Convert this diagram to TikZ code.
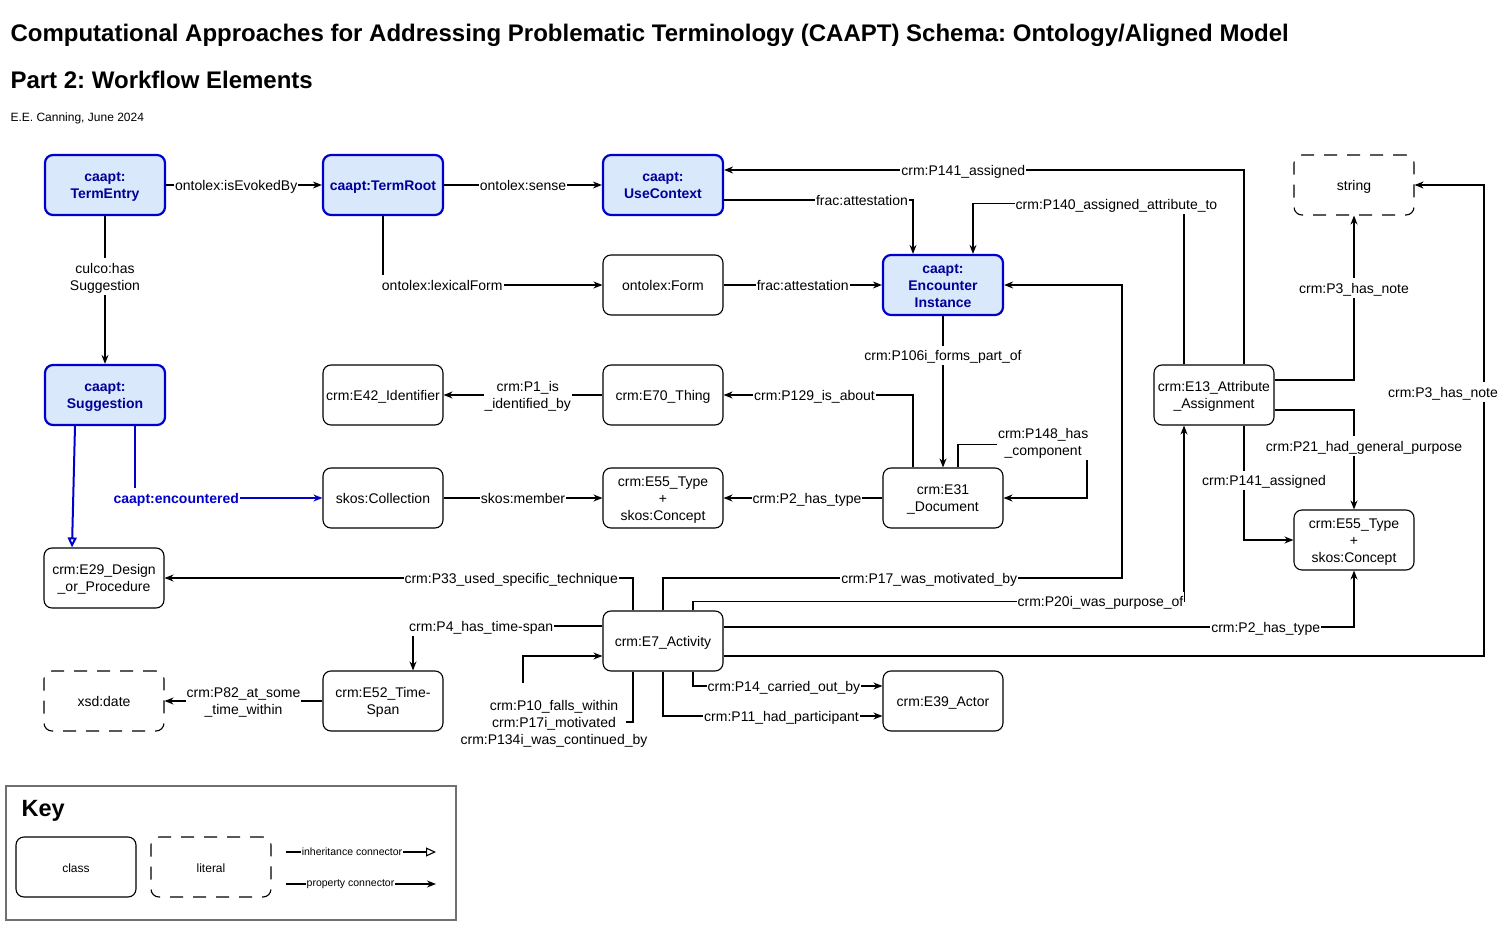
\documentclass[tikz,border=0pt]{standalone}
\usepackage{fontspec}
\setmainfont{Liberation Sans}
\usetikzlibrary{arrows.meta}
\frenchspacing

\definecolor{caaptfill}{HTML}{DAE8FC}
\definecolor{caaptblue}{HTML}{0000CC}
\definecolor{caapttext}{HTML}{000099}
\definecolor{keygrey}{HTML}{707070}

% line box of the diagram text (first and last line)
\newcommand{\topline}{\rule[-3.6pt]{0pt}{17.8pt}}
\newcommand{\bottomline}{\rule[-3.6pt]{0pt}{3.6pt}}

\begin{document}
\begin{tikzpicture}[x=1pt,y=-1pt,line width=1.1pt,>={Stealth[length=9pt,width=7pt]}]
    %
    % `classbox' is used for the plain classes.
    % `caapt' is used for the CAAPT classes (blue boxes).
    % `literal' is used for the dashed literal boxes.
    % `lbl' is used for the labels on the connectors.
    \tikzstyle{classbox} = [draw,fill=white,rounded corners=8pt,minimum width=120pt,minimum height=60pt,align=center,inner sep=2pt,font=\fontsize{14}{17}\selectfont,execute at begin node=\topline,execute at end node=\bottomline]
    \tikzstyle{caapt} = [classbox,draw=caaptblue,fill=caaptfill,line width=2.2pt,text=caapttext,font=\fontsize{14}{17}\selectfont\bfseries]
    \tikzstyle{literal} = [classbox,dash pattern=on 13pt off 10pt]
    \tikzstyle{lbl} = [fill=white,inner sep=1pt,align=center,font=\fontsize{14}{17}\selectfont,execute at begin node=\topline,execute at end node=\bottomline]
    \tikzstyle{bluelbl} = [lbl,text=caaptblue,font=\fontsize{14}{17}\selectfont\bfseries]
    \tikzstyle{keylbl} = [fill=white,inner sep=1pt,font=\fontsize{10.5}{12}\selectfont]
    \tikzstyle{prop} = [->]
    \tikzstyle{inherit} = [-{Triangle[open,length=10pt,width=9pt]}]
    \tikzstyle{blueline} = [draw=caaptblue,line width=2pt]
    %
    \useasboundingbox (0,0) rectangle (1505,925);
    %
    % Title
    \node[anchor=west,inner sep=0pt,font=\fontsize{24}{28}\selectfont\bfseries] (title) at (10,35) {Computational Approaches for Addressing Problematic Terminology (CAAPT) Schema: Ontology/Aligned Model};
    \node[anchor=west,inner sep=0pt,font=\fontsize{24}{28}\selectfont\bfseries] (subtitle) at (10,80) {Part 2: Workflow Elements};
    \node[anchor=west,inner sep=0pt,font=\fontsize{12}{14}\selectfont] (author) at (10,118) {E.E. Canning, June 2024};
    %
    % Classes
    \node[caapt] (termentry) at (105,185) {\topline caapt:\\TermEntry};
    \node[caapt] (termroot) at (383,185) {caapt:TermRoot};
    \node[caapt] (usecontext) at (663,185) {\topline caapt:\\UseContext};
    \node[literal] (string) at (1354,185) {string};
    \node[classbox] (form) at (663,285) {ontolex:Form};
    \node[caapt] (encounter) at (943,285) {\topline caapt:\\Encounter\\Instance};
    \node[caapt] (suggestion) at (105,395) {\topline caapt:\\Suggestion};
    \node[classbox] (identifier) at (383,395) {crm:E42\_Identifier};
    \node[classbox] (thing) at (663,395) {crm:E70\_Thing};
    \node[classbox] (attribute) at (1214,395) {\topline crm:E13\_Attribute\\\_Assignment};
    \node[classbox] (collection) at (383,498) {skos:Collection};
    \node[classbox] (typeA) at (663,498) {\topline crm:E55\_Type\\+\\skos:Concept};
    \node[classbox] (document) at (943,498) {\topline crm:E31\\\_Document};
    \node[classbox] (typeB) at (1354,540) {\topline crm:E55\_Type\\+\\skos:Concept};
    \node[classbox] (design) at (104,578) {\topline crm:E29\_Design\\\_or\_Procedure};
    \node[classbox] (activity) at (663,641) {crm:E7\_Activity};
    \node[literal] (date) at (104,701) {xsd:date};
    \node[classbox] (timespan) at (383,701) {\topline crm:E52\_Time-\\Span};
    \node[classbox] (actor) at (943,701) {crm:E39\_Actor};
    %
    % Lexical part
    \draw[prop] (termentry) -- node[lbl,pos=0.45] {ontolex:isEvokedBy} (termroot);
    \draw[prop] (termroot) -- node[lbl] {ontolex:sense} (usecontext);
    \draw[prop] (termentry) -- node[lbl,pos=0.41] {\topline culco:has\\Suggestion} (suggestion);
    \draw[prop] (termroot.south) |- node[lbl,pos=0.635] {ontolex:lexicalForm} (form.west);
    \draw[prop] ([yshift=-15pt]usecontext.east) -| node[lbl,pos=0.365] {frac:attestation} ([xshift=-30pt]encounter.north);
    \draw[prop] (form) -- node[lbl] {frac:attestation} (encounter);
    %
    % Suggestion
    \draw[blueline,inherit] ([xshift=-30pt]suggestion.south) -- ([xshift=-32pt]design.north);
    \draw[blueline,prop] ([xshift=30pt]suggestion.south) |- node[bluelbl,pos=0.61] {caapt:encountered} (collection.west);
    \draw[prop] (collection) -- node[lbl] {skos:member} (typeA);
    %
    % Attribute assignment
    \draw[prop] ([xshift=30pt]attribute.north) |- node[lbl,pos=0.77] {crm:P141\_assigned} ([yshift=15pt]usecontext.east);
    \draw[prop] ([xshift=-30pt]attribute.north) |- node[lbl,pos=0.66] {crm:P140\_assigned\_attribute\_to} ([xshift=30pt,yshift=50pt]encounter.north) -- ([xshift=30pt]encounter.north);
    \draw[prop] ([yshift=15pt]attribute.east) -| node[lbl,pos=0.78] {crm:P3\_has\_note} (string.south);
    \draw[prop] ([yshift=-15pt]attribute.east) -| node[lbl,pos=0.68,xshift=10pt] {crm:P21\_had\_general\_purpose} (typeB.north);
    \draw[prop] ([xshift=30pt]attribute.south) |- node[lbl,pos=0.24,xshift=20pt] {crm:P141\_assigned} (typeB.west);
    %
    % Document
    \draw[prop] (encounter) -- node[lbl,pos=0.26] {crm:P106i\_forms\_part\_of} (document);
    \draw[prop] (thing) -- node[lbl,pos=0.47] {\topline crm:P1\_is\\\_identified\_by} (identifier);
    \draw[prop] ([xshift=-30pt]document.north) |- node[lbl,pos=0.76] {crm:P129\_is\_about} (thing.east);
    \draw[prop] ([xshift=15pt]document.north) -- ++(0,-23) -| node[lbl,pos=0.33,yshift=3pt] {\topline crm:P148\_has\\\_component} (1087,498) -- (document.east);
    \draw[prop] (document) -- node[lbl,pos=0.475] {crm:P2\_has\_type} (typeA);
    %
    % Activity
    \draw[prop] (activity.north) |- node[lbl,pos=0.79] {crm:P17\_was\_motivated\_by} (1122,578) |- (encounter.east);
    \draw[prop] ([xshift=-30pt]activity.north) |- node[lbl,pos=0.63] {crm:P33\_used\_specific\_technique} (design.east);
    \draw[prop] ([xshift=30pt]activity.north) -- ++(0,-9) -| node[lbl,pos=0.415] {crm:P20i\_was\_purpose\_of} ([xshift=-30pt]attribute.south);
    \draw[prop] ([yshift=14pt]activity.east) -| node[lbl,pos=0.43] {crm:P2\_has\_type} (typeB.south);
    \draw[prop] ([yshift=-15pt]activity.east) -| node[lbl,pos=0.78,xshift=-41pt] {crm:P3\_has\_note} (1484,185) -- (string.east);
    \draw[prop] ([yshift=15pt]activity.west) -| node[lbl,pos=0.32] {crm:P4\_has\_time-span} ([xshift=30pt]timespan.north);
    \draw[prop] (timespan) -- node[lbl] {\topline crm:P82\_at\_some\\\_time\_within} (date);
    \draw[prop] ([xshift=30pt]activity.south) |- node[lbl,pos=0.74] {crm:P14\_carried\_out\_by} ([yshift=15pt]actor.west);
    \draw[prop] (activity.south) |- node[lbl,pos=0.77] {crm:P11\_had\_participant} ([yshift=-15pt]actor.west);
    %
    % Activity loop
    \node[lbl,fill=none] (loopnote) at (554,722) {\topline crm:P10\_falls\_within\\crm:P17i\_motivated\\crm:P134i\_was\_continued\_by};
    \draw ([xshift=-30pt]activity.south) |- ([xshift=72pt]loopnote.center);
    \draw[prop] ([xshift=-31pt,yshift=12pt]loopnote.north) |- ([yshift=-15pt]activity.west);
    %
    % Key
    \node[draw=keygrey,line width=1.3pt,minimum width=450pt,minimum height=134pt] (key) at (231,853) {};
    \node[anchor=west,inner sep=0pt,font=\fontsize{23.5}{28}\selectfont\bfseries] (keytitle) at (21,811) {Key};
    \node[classbox,font=\fontsize{12}{14}\selectfont] (keyclass) at (76,867) {class};
    \node[literal,font=\fontsize{12}{14}\selectfont] (keyliteral) at (211,867) {literal};
    \coordinate (inhstart) at (286,852);
    \coordinate (inhend) at (436,852);
    \coordinate (propstart) at (286,884);
    \coordinate (propend) at (436,884);
    \draw[inherit] (inhstart) -- node[keylbl,pos=0.44] {inheritance connector} (inhend);
    \draw[prop] (propstart) -- node[keylbl,pos=0.43] {property connector} (propend);
    %
\end{tikzpicture}
\end{document}
